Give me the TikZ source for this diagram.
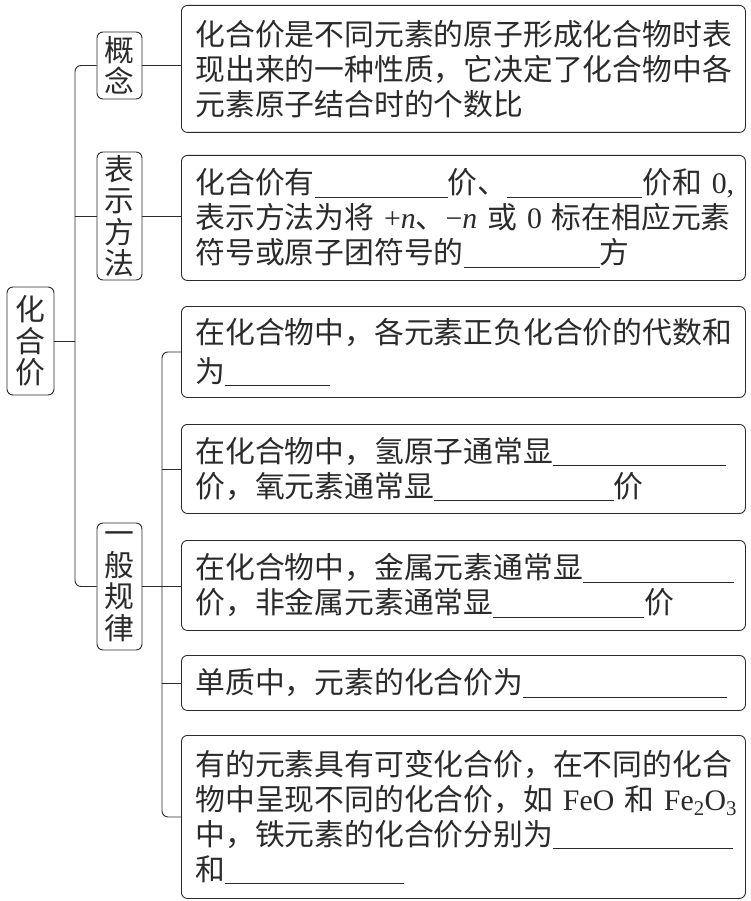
\documentclass[tikz,border=0pt]{standalone}
\usepackage{fontspec}
\setmainfont{Liberation Serif}
\newfontfamily\cjk{Noto Sans CJK SC}
\newcommand\lt[1]{{\rmfamily #1}}
\newcommand\blank[1]{\raisebox{-4pt}{\rule{#1pt}{0.9pt}}}
\definecolor{ink}{HTML}{2A2A2A}
\tikzset{
  rbox/.style={draw=ink, line width=0.9pt, rounded corners=6pt, anchor=north west,
    text width=536pt, inner xsep=14pt, inner ysep=0pt, align=left, text=ink,
    font=\cjk\fontsize{29.8}{35}\selectfont},
  lbox/.style={draw=ink, line width=0.9pt, rounded corners=6pt, inner sep=0pt,
    minimum width=45pt, align=center, text=ink,
    font=\cjk\fontsize{29.8}{31.5}\selectfont},
  conn/.style={draw=ink, line width=0.9pt, rounded corners=6pt}
}
\begin{document}
\begin{tikzpicture}[x=1pt,y=-1pt]
\path[use as bounding box] (0,0) rectangle (750,901);
% right boxes
\node[rbox, minimum height=127pt] (b1) at (181,5)
 {化合价是不同元素的原子形成化合物时表\\现出来的一种性质，它决定了化合物中各\\元素原子结合时的个数比};
\node[rbox, minimum height=125pt] (b2) at (181,155)
 {\mbox{化合价有\blank{133}价、\blank{135}价和\lt{~0,}}\\\mbox{表示方法为将\lt{~+\textit{n}}、\lt{−\textit{n}~}或\lt{~0~}标在相应元素}\\符号或原子团符号的\blank{136}方};
\node[rbox, minimum height=91pt, font=\cjk\fontsize{29.8}{39}\selectfont] (b3) at (181,306)
 {在化合物中，各元素正负化合价的代数和\\为\blank{105}};
\node[rbox, minimum height=89pt] (b4) at (181,424)
 {在化合物中，氢原子通常显\blank{173}\\价，氧元素通常显\blank{180}价};
\node[rbox, minimum height=90pt] (b5) at (181,540)
 {在化合物中，金属元素通常显\blank{151}\\价，非金属元素通常显\blank{151}价};
\node[rbox, minimum height=55pt] (b6) at (181,655)
 {单质中，元素的化合价为\blank{204}};
\node[rbox, minimum height=163pt] (b7) at (181,735)
 {有的元素具有可变化合价，在不同的化合\\\mbox{物中呈现不同的化合价，如\lt{~FeO~}和\lt{~Fe\textsubscript{2}O\textsubscript{3}}}\\中，铁元素的化合价分别为\blank{180}\\和\blank{179}};
% left boxes
\node[lbox, minimum height=108pt, minimum width=47pt] (hhj) at (30.5,341) {化\\合\\价};
\node[lbox, minimum height=67pt] (gn) at (119.5,65.5) {概\\念};
\node[lbox, minimum height=128pt] (bs) at (119.5,216) {表\\示\\方\\法};
\node[lbox, minimum height=127pt] (yb) at (119.5,586.5) {一\\般\\规\\律};
% trunk coordinates
\coordinate (tA) at (75,0);
\coordinate (tB) at (162,0);
% connectors level 1
\draw[conn] (gn.west) -- (gn.west -| tA) |- (yb.west);
\draw[conn] (bs.west) -- (bs.west -| tA);
\draw[conn] (hhj.east) -- (hhj.east -| tA);
% connectors level 2
\draw[conn] (gn.east) -- (gn.east -| b1.west);
\draw[conn] (bs.east) -- (bs.east -| b2.west);
\draw[conn] (yb.east) -- (yb.east -| b5.west);
\draw[conn] (b3.west) -- (b3.west -| tB) |- (b7.west);
\draw[conn] (b4.west) -- (b4.west -| tB);
\draw[conn] (b6.west) -- (b6.west -| tB);
\end{tikzpicture}
\end{document}
